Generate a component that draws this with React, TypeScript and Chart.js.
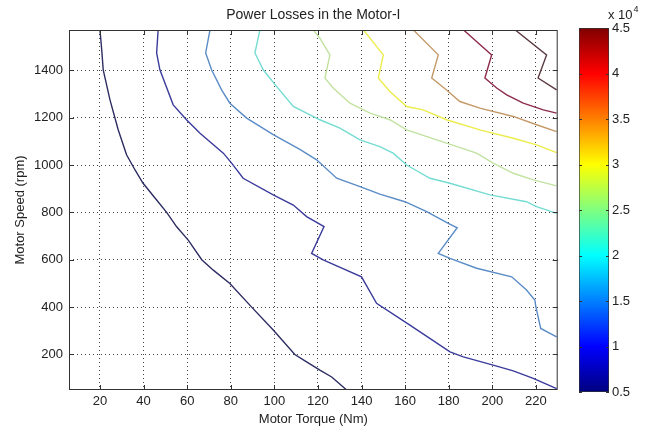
import React, { useEffect, useRef } from "react";
import { Chart, registerables } from "chart.js";

Chart.register(...registerables);

// ---- Data (torque in Nm, speed in rpm) ----
const torqueRange = [5.8, 230];
const speedRange = [50, 1570];

const loss05Torque = [20, 20.8, 21.5, 24.6, 28.4, 32.2, 36.1, 39.7, 46.0, 50.6, 55.2, 60.5, 66.7, 72.0, 79.6, 89.6, 99.5, 109.4, 114.8, 120.9, 126.3, 133.2];
const loss05Speed = [1571, 1487, 1402, 1275, 1148, 1043, 979, 924, 852, 800, 739, 683, 600, 556, 500, 400, 303, 200, 169, 134, 105, 50];

const loss10Torque = [46.7, 46.0, 47.5, 53.6, 59.8, 65.9, 76.6, 80.4, 85.7, 99.5, 108.7, 114.8, 122.8, 117.1, 122.4, 140.0, 146.9, 162.2, 180.6, 186.7, 200.4, 209.6, 218.8, 229.5];
const loss10Speed = [1571, 1473, 1402, 1254, 1190, 1134, 1050, 1008, 944, 874, 831, 782, 740, 627, 599, 528, 416, 324, 211, 190, 155, 131, 99, 56];

const loss15Torque = [70.5, 68.5, 71.2, 75.8, 79.6, 87.3, 99.5, 111.7, 119.4, 128.6, 139.3, 148.4, 159.9, 169.9, 179.8, 183.9, 175.2, 180.6, 192.8, 208.9, 215.7, 219.5, 220.0, 222.2, 229.5];
const loss15Speed = [1571, 1473, 1402, 1317, 1261, 1198, 1128, 1066, 1022, 944, 909, 877, 845, 803, 754, 735, 627, 606, 564, 528, 472, 430, 401, 310, 274];

const loss20Torque = [93.4, 91.1, 94.9, 101.1, 108.7, 120.9, 130.1, 139.3, 148.4, 154.5, 160.7, 171.4, 180.6, 198.9, 215.7, 220.3, 229.5];
const loss20Speed = [1571, 1473, 1402, 1331, 1247, 1191, 1156, 1106, 1078, 1050, 1000, 944, 923, 874, 845, 824, 796];

const loss25Torque = [117.8, 120.9, 125.5, 123.2, 127.0, 134.7, 143.9, 153.0, 160.7, 179.0, 192.8, 200.4, 209.6, 218.8, 229.5];
const loss25Speed = [1571, 1536, 1465, 1367, 1325, 1261, 1219, 1191, 1148, 1092, 1050, 1008, 965, 937, 912];

const loss30Torque = [140.8, 150.0, 147.7, 153.0, 160.7, 168.3, 179.0, 194.3, 209.6, 220.3, 229.5];
const loss30Speed = [1571, 1465, 1367, 1310, 1247, 1233, 1191, 1148, 1113, 1085, 1052];

const loss35Torque = [163.7, 175.2, 172.2, 179.0, 185.1, 194.3, 209.6, 220.3, 229.5];
const loss35Speed = [1571, 1465, 1367, 1317, 1268, 1240, 1205, 1170, 1141];

const loss40Torque = [186.7, 199.7, 196.6, 202.0, 206.6, 214.2, 223.4, 229.5];
const loss40Speed = [1571, 1465, 1367, 1325, 1296, 1261, 1233, 1219];

const loss45Torque = [210.4, 224.9, 221.0, 229.5];
const loss45Speed = [1571, 1465, 1367, 1317];

// contour levels (x 10^4 W) and their line colours
const levels = [0.5, 1.0, 1.5, 2.0, 2.5, 3.0, 3.5, 4.0, 4.5];
const levelColors = ["#2d2d63", "#3b3b9c", "#5a8cc6", "#74dcd2", "#c2e2a0", "#ecec4c", "#c49a68", "#8e2a4e", "#5a3a40"];

// colour bar range and jet colormap stops
const colorbarRange = [0.5, 4.5];
const jetStops = [
  [0, "#000080"],
  [0.125, "#0000ff"],
  [0.375, "#00ffff"],
  [0.625, "#ffff00"],
  [0.875, "#ff0000"],
  [1, "#800000"],
];

const FONT = "'Liberation Sans', Arial, Helvetica, sans-serif";
const TEXT = "#222";

const contours = [
  [loss05Torque, loss05Speed],
  [loss10Torque, loss10Speed],
  [loss15Torque, loss15Speed],
  [loss20Torque, loss20Speed],
  [loss25Torque, loss25Speed],
  [loss30Torque, loss30Speed],
  [loss35Torque, loss35Speed],
  [loss40Torque, loss40Speed],
  [loss45Torque, loss45Speed],
];

const framePlugin = {
  id: "frame",
  afterDatasetsDraw(chart: any) {
    const { ctx, chartArea } = chart;
    const { left, right, top, bottom } = chartArea;
    const x = chart.scales.x;
    const y = chart.scales.y;
    ctx.save();
    ctx.strokeStyle = "#333";
    ctx.lineWidth = 1;
    ctx.setLineDash([]);
    ctx.strokeRect(left + 0.5, top + 0.5, right - left - 1, bottom - top - 1);
    ctx.beginPath();
    const tl = 5;
    x.ticks.forEach((t: any) => {
      const px = Math.round(x.getPixelForValue(t.value)) + 0.5;
      ctx.moveTo(px, bottom);
      ctx.lineTo(px, bottom - tl);
      ctx.moveTo(px, top);
      ctx.lineTo(px, top + tl);
    });
    y.ticks.forEach((t: any) => {
      const py = Math.round(y.getPixelForValue(t.value)) + 0.5;
      ctx.moveTo(left, py);
      ctx.lineTo(left + tl, py);
      ctx.moveTo(right, py);
      ctx.lineTo(right - tl, py);
    });
    ctx.stroke();
    ctx.restore();
  },
};

const colorbarPlugin = {
  id: "cbframe",
  afterDatasetsDraw(chart: any) {
    const { ctx, chartArea } = chart;
    const { left, right, top } = chartArea;
    const y = chart.scales.y;
    ctx.save();
    ctx.strokeStyle = "#333";
    ctx.lineWidth = 1;
    ctx.beginPath();
    const tl = 3;
    y.ticks.forEach((t: any) => {
      const py = Math.round(y.getPixelForValue(t.value)) + 0.5;
      ctx.moveTo(left, py);
      ctx.lineTo(left + tl, py);
      ctx.moveTo(right, py);
      ctx.lineTo(right - tl, py);
    });
    ctx.stroke();
    // exponent label "x 10^4"
    ctx.fillStyle = TEXT;
    ctx.textBaseline = "alphabetic";
    ctx.textAlign = "left";
    ctx.font = `13px ${FONT}`;
    const base = "x 10";
    ctx.fillText(base, right - 1, top - 9);
    const w = ctx.measureText(base).width;
    ctx.font = `9px ${FONT}`;
    ctx.fillText("4", right - 1 + w + 1, top - 16);
    ctx.restore();
  },
};

const plainLabel = (v: any) => String(v);

export default function App() {
  const mainRef = useRef<HTMLCanvasElement>(null);
  const cbRef = useRef<HTMLCanvasElement>(null);

  useEffect(() => {
    if (!mainRef.current || !cbRef.current) return;

    const datasets = contours.map(([tq, sp], i) => ({
      label: `${levels[i]} x 10^4`,
      data: tq.map((t, k) => ({ x: t, y: sp[k] })),
      borderColor: levelColors[i],
      backgroundColor: levelColors[i],
      borderWidth: 1.4,
      pointRadius: 0,
      fill: false,
      tension: 0,
    }));

    const main = new Chart(mainRef.current, {
      type: "line",
      data: { datasets },
      options: {
        animation: false,
        responsive: false,
        layout: { padding: { left: 0, right: 92.3, top: 0, bottom: 0 } },
        plugins: {
          legend: { display: false },
          tooltip: { enabled: false },
          title: {
            display: true,
            text: "Power Losses in the Motor-I",
            fullSize: false,
            color: TEXT,
            font: { family: FONT, size: 14, weight: "normal" },
            padding: { top: 6.6, bottom: 6.6 },
          },
        },
        scales: {
          x: {
            type: "linear",
            min: torqueRange[0],
            max: torqueRange[1],
            ticks: {
              stepSize: 20,
              includeBounds: false,
              padding: 4,
              color: TEXT,
              font: { family: FONT, size: 13 },
              maxRotation: 0,
              callback: plainLabel,
            },
            grid: { color: "#444", lineWidth: 1, drawTicks: false },
            border: { display: false, dash: [1, 3] },
            title: {
              display: true,
              text: "Motor Torque (Nm)",
              color: TEXT,
              font: { family: FONT, size: 13 },
              padding: { top: 0, bottom: 5 },
            },
            afterFit: (s: any) => {
              s.height = 42;
            },
          },
          y: {
            type: "linear",
            min: speedRange[0],
            max: speedRange[1],
            ticks: {
              stepSize: 200,
              includeBounds: false,
              padding: 6,
              color: TEXT,
              font: { family: FONT, size: 13 },
              callback: plainLabel,
            },
            grid: { color: "#444", lineWidth: 1, drawTicks: false },
            border: { display: false, dash: [1, 3] },
            title: {
              display: true,
              text: "Motor Speed (rpm)",
              color: TEXT,
              font: { family: FONT, size: 13 },
              padding: { top: 13, bottom: 0 },
            },
            afterFit: (s: any) => {
              s.width = 69;
            },
          },
        },
      } as any,
      plugins: [framePlugin],
    });

    const cb = new Chart(cbRef.current, {
      type: "bar",
      data: {
        labels: [""],
        datasets: [
          {
            data: [[colorbarRange[0], colorbarRange[1]]],
            backgroundColor: (c: any) => {
              const area = c.chart.chartArea;
              if (!area) return "#00f";
              const g = c.chart.ctx.createLinearGradient(0, area.bottom, 0, area.top);
              jetStops.forEach(([p, col]) => g.addColorStop(p as number, col as string));
              return g;
            },
            borderColor: "#333",
            borderWidth: 1,
            borderSkipped: false,
            barPercentage: 1,
            categoryPercentage: 1,
          } as any,
        ],
      },
      options: {
        animation: false,
        responsive: false,
        layout: { padding: { left: 19, right: 0, top: 28, bottom: 40 } },
        plugins: { legend: { display: false }, tooltip: { enabled: false } },
        scales: {
          x: { display: false },
          y: {
            position: "right",
            min: colorbarRange[0],
            max: colorbarRange[1],
            ticks: {
              stepSize: 0.5,
              padding: 3,
              color: TEXT,
              font: { family: FONT, size: 13 },
              callback: plainLabel,
            },
            grid: { display: false, drawTicks: false },
            border: { display: false },
            afterFit: (s: any) => {
              s.width = 41;
            },
          },
        },
      } as any,
      plugins: [colorbarPlugin],
    });

    return () => {
      main.destroy();
      cb.destroy();
    };
  }, []);

  return (
    <div style={{ position: "absolute", left: 0, top: 0, width: 650, height: 432, background: "#fff" }}>
      <canvas
        ref={mainRef}
        width={650}
        height={432}
        style={{ position: "absolute", left: 0, top: 0, width: 650, height: 432 }}
      />
      <canvas
        ref={cbRef}
        width={90}
        height={432}
        style={{ position: "absolute", left: 560, top: 0, width: 90, height: 432 }}
      />
    </div>
  );
}
